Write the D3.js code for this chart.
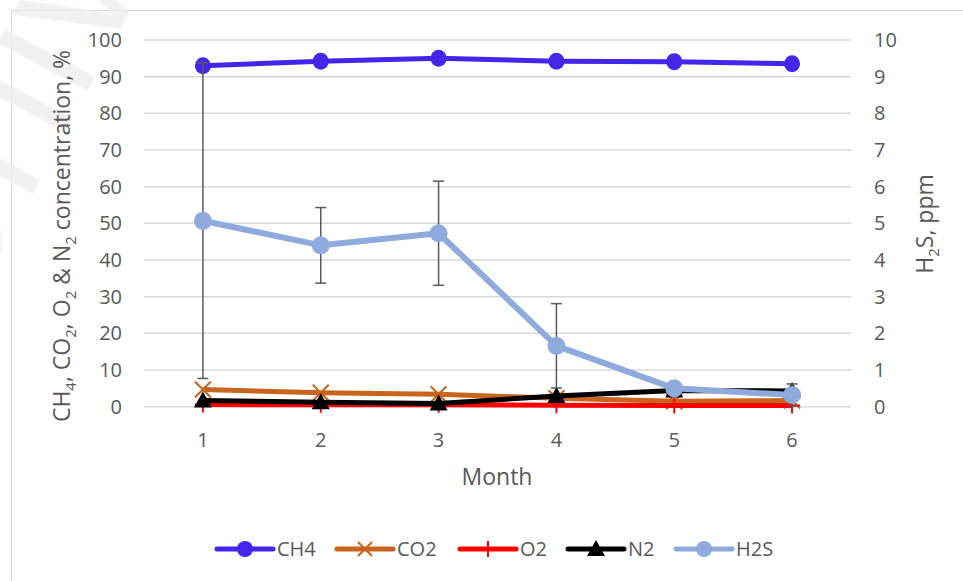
<!DOCTYPE html>
<html>
<head>
<meta charset="utf-8">
<script src="https://cdn.jsdelivr.net/npm/d3@7"></script>
<style>
  body { margin: 0; background: #fff; }
  text { font-family: "Open Sans", sans-serif; fill: #595959; }
</style>
</head>
<body>
<svg id="chart" width="963" height="581"></svg>
<script>
// values
var months = ["1", "2", "3", "4", "5", "6"];
var ch4 = [93.0, 94.2, 95.0, 94.2, 94.1, 93.5];
var co2 = [4.7, 3.8, 3.4, 2.3, 1.5, 1.7];
var o2  = [0.6, 0.5, 0.5, 0.4, 0.3, 0.3];
var n2  = [1.7, 1.2, 0.9, 2.9, 4.4, 4.3];
var h2s = [5.07, 4.40, 4.73, 1.66, 0.50, 0.32];
var h2sErr = [4.3, 1.03, 1.42, 1.15, 0.1, 0.3];
var leftTicks = [0, 10, 20, 30, 40, 50, 60, 70, 80, 90, 100];
var rightTicks = [0, 1, 2, 3, 4, 5, 6, 7, 8, 9, 10];

var svg = d3.select("#chart");
var pLeft = 144, pRight = 851, pTop = 40, pBottom = 406.7;

var x = d3.scaleBand().domain(months).range([pLeft, pRight]).paddingInner(0).paddingOuter(0);
var cx = function(d){ return x(d) + x.bandwidth()/2; };
var yL = d3.scaleLinear().domain([0, 100]).range([pBottom, pTop]);
var yR = d3.scaleLinear().domain([0, 10]).range([pBottom, pTop]);

// outer frame
svg.append("rect").attr("x", 11.5).attr("y", 10.5).attr("width", 970).attr("height", 600)
   .style("fill", "none").style("stroke", "#d9d9d9").style("stroke-width", 1);

// watermark
svg.append("text")
   .attr("transform", "translate(-40,330) rotate(-62)")
   .style("font-size", "190px").style("fill", "#ededed").style("fill-opacity", 0.8)
   .text("Unive");

// gridlines
svg.append("g").selectAll("line").data(leftTicks).enter().append("line")
   .attr("x1", pLeft).attr("x2", pRight)
   .attr("y1", function(d){ return yL(d); }).attr("y2", function(d){ return yL(d); })
   .style("stroke", "#d9d9d9").style("stroke-width", 1.5);

// axes
var axL = svg.append("g").attr("transform", "translate(" + (pLeft - 22) + ",0)")
   .call(d3.axisLeft(yL).tickValues(leftTicks).tickSize(0).tickPadding(0));
var axR = svg.append("g").attr("transform", "translate(" + (pRight + 23) + ",0)")
   .call(d3.axisRight(yR).tickValues(rightTicks).tickSize(0).tickPadding(0));
var axB = svg.append("g").attr("transform", "translate(0," + (pBottom + 22) + ")")
   .call(d3.axisBottom(x).tickSize(0).tickPadding(0));
[axL, axR, axB].forEach(function(a){
  a.select(".domain").remove();
  a.selectAll("text").style("font-size", "20px").style("fill", "#595959").style("font-family", "Open Sans");
});
axB.selectAll("text").attr("dy", "0.9em");

// axis titles
svg.append("text").attr("x", 497).attr("y", 485).attr("text-anchor", "middle")
   .style("font-size", "23px").text("Month");

var lt = svg.append("text").attr("text-anchor", "middle")
   .attr("transform", "translate(70,236) rotate(-90)")
   .style("font-size", "23px");
var parts = [["CH", 0], ["4", 1], [", CO", 0], ["2", 1], [", O", 0], ["2", 1], [" & N", 0], ["2", 1], [" concentration, %", 0]];
var shift = 0;
parts.forEach(function(p){
  var dy = p[1] ? 6 - shift : -shift;
  shift = p[1] ? 6 : 0;
  lt.append("tspan").attr("dy", dy).style("font-size", p[1] ? "15px" : "23px").text(p[0]);
});

var rt = svg.append("text").attr("text-anchor", "middle")
   .attr("transform", "translate(933,224) rotate(-90)")
   .style("font-size", "23px");
rt.append("tspan").text("H");
rt.append("tspan").attr("dy", 6).style("font-size", "15px").text("2");
rt.append("tspan").attr("dy", -6).text("S, ppm");

// series
var line = function(ys, vals){
  return d3.line().x(function(d, i){ return cx(months[i]); }).y(function(d){ return ys(d); })(vals);
};

function drawLine(vals, ys, color, w){
  svg.append("path").attr("d", line(ys, vals))
     .style("fill", "none").style("stroke", color).style("stroke-width", w).style("stroke-linejoin", "round");
}

// CH4
drawLine(ch4, yL, "#4326EC", 5);
svg.append("g").selectAll("ellipse").data(ch4).enter().append("ellipse")
   .attr("cx", function(d, i){ return cx(months[i]); }).attr("cy", function(d){ return yL(d); })
   .attr("rx", 8).attr("ry", 8.5).style("fill", "#4326EC");

// CO2
drawLine(co2, yL, "#C8641C", 5);
svg.append("g").selectAll("path").data(co2).enter().append("path")
   .attr("d", function(d, i){
     var px = cx(months[i]), py = yL(d), s = 8;
     return "M" + (px - s) + "," + (py - s) + "L" + (px + s) + "," + (py + s) +
            "M" + (px - s) + "," + (py + s) + "L" + (px + s) + "," + (py - s);
   })
   .style("stroke", "#C8641C").style("stroke-width", 2).style("fill", "none");

// O2
drawLine(o2, yL, "#FF0000", 5);
svg.append("g").selectAll("path").data(o2).enter().append("path")
   .attr("d", function(d, i){
     var px = cx(months[i]), py = yL(d), s = 8;
     return "M" + (px - s) + "," + py + "L" + (px + s) + "," + py +
            "M" + px + "," + (py - s) + "L" + px + "," + (py + s);
   })
   .style("stroke", "#FF0000").style("stroke-width", 2).style("fill", "none");

// N2
drawLine(n2, yL, "#000000", 5);
svg.append("g").selectAll("path").data(n2).enter().append("path")
   .attr("d", function(d, i){
     var px = cx(months[i]), py = yL(d);
     return "M" + px + "," + (py - 9) + "L" + (px + 9) + "," + (py + 7) + "L" + (px - 9) + "," + (py + 7) + "Z";
   })
   .style("fill", "#000000");

// H2S error bars
var eb = svg.append("g").selectAll("g").data(h2s).enter().append("g")
   .style("stroke", "#595959").style("stroke-width", 1.5);
eb.append("line")
   .attr("x1", function(d, i){ return cx(months[i]); }).attr("x2", function(d, i){ return cx(months[i]); })
   .attr("y1", function(d, i){ return yR(d + h2sErr[i]); }).attr("y2", function(d, i){ return yR(d - h2sErr[i]); });
eb.append("line")
   .attr("x1", function(d, i){ return cx(months[i]) - 5.5; }).attr("x2", function(d, i){ return cx(months[i]) + 5.5; })
   .attr("y1", function(d, i){ return yR(d + h2sErr[i]); }).attr("y2", function(d, i){ return yR(d + h2sErr[i]); });
eb.append("line")
   .attr("x1", function(d, i){ return cx(months[i]) - 5.5; }).attr("x2", function(d, i){ return cx(months[i]) + 5.5; })
   .attr("y1", function(d, i){ return yR(d - h2sErr[i]); }).attr("y2", function(d, i){ return yR(d - h2sErr[i]); });

// H2S
drawLine(h2s, yR, "#8FAADC", 6);
svg.append("g").selectAll("circle").data(h2s).enter().append("circle")
   .attr("cx", function(d, i){ return cx(months[i]); }).attr("cy", function(d){ return yR(d); })
   .attr("r", 9).style("fill", "#8FAADC");

// legend
var names = ["CH4", "CO2", "O2", "N2", "H2S"];
var colors = ["#4326EC", "#C8641C", "#FF0000", "#000000", "#8FAADC"];
var legX = [217, 337, 460, 568, 676];
var ly = 549;
names.forEach(function(n, i){
  var g = svg.append("g").attr("transform", "translate(" + legX[i] + "," + ly + ")");
  g.append("line").attr("x1", 0).attr("x2", 56).attr("y1", 0).attr("y2", 0)
   .style("stroke", colors[i]).style("stroke-width", 5).style("stroke-linecap", "round");
  var m = 28;
  if (n === "CH4" || n === "H2S") {
    g.append("circle").attr("cx", m).attr("cy", 0).attr("r", 8).style("fill", colors[i]);
  } else if (n === "CO2") {
    g.append("path").attr("d", "M" + (m-7) + ",-7L" + (m+7) + ",7M" + (m-7) + ",7L" + (m+7) + ",-7")
     .style("stroke", colors[i]).style("stroke-width", 2);
  } else if (n === "O2") {
    g.append("path").attr("d", "M" + m + ",-8L" + m + ",8").style("stroke", colors[i]).style("stroke-width", 2);
  } else {
    g.append("path").attr("d", "M" + m + ",-9L" + (m+9) + ",7L" + (m-9) + ",7Z").style("fill", colors[i]);
  }
  g.append("text").attr("x", 60).attr("y", 0).attr("dy", "0.36em").style("font-size", "20px").text(n);
});
</script>
</body>
</html>
